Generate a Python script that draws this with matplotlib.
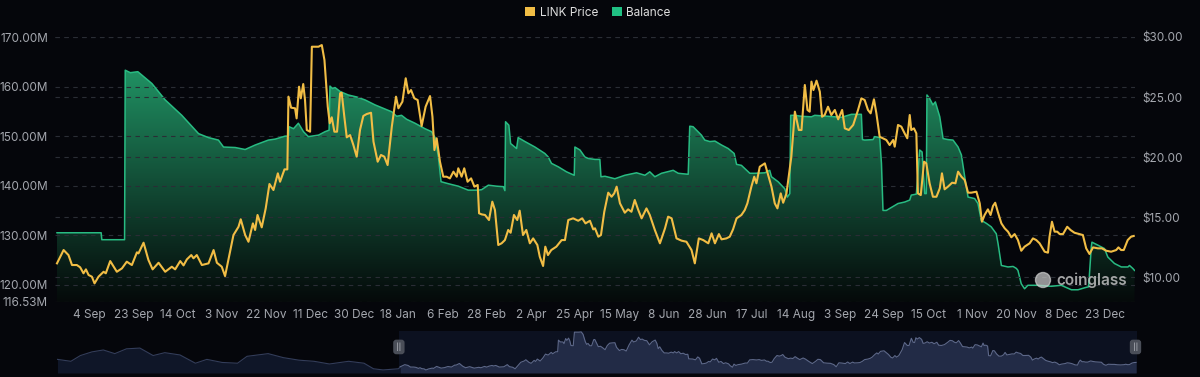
"""LINK exchange balance vs price, coinglass style"""

import numpy as np
import matplotlib.pyplot as plt
import matplotlib.transforms as mtransforms
from matplotlib.patches import Patch, PathPatch, Ellipse

plt.rcParams['font.family'] = ['Inter', 'DejaVu Sans']

# x axis: category positions, one label every 20 steps
tick_labels = ['4 Sep', '23 Sep', '14 Oct', '3 Nov', '22 Nov', '11 Dec', '30 Dec', '18 Jan',
               '6 Feb', '28 Feb', '2 Apr', '25 Apr', '15 May', '8 Jun', '28 Jun', '17 Jul',
               '14 Aug', '3 Sep', '24 Sep', '15 Oct', '1 Nov', '20 Nov', '8 Dec', '23 Dec']
tick_step = 20

balance_ticks = [116.53, 120, 130, 140, 150, 160, 170]
price_ticks = [10, 15, 20, 25, 30]

# exchange balance (millions of LINK), (position, value)
balance_pts = [
    (-14.6, 130.5), (5.4, 130.5), (5.7, 129.1), (16.0, 129.1), (16.3, 163.3), (18.6, 162.8),
    (22.0, 163.0), (28.4, 160.6), (34.4, 157.3), (41.9, 154.2), (49.5, 150.5), (54.0, 149.7),
    (58.5, 149.2), (60.8, 147.8), (66.1, 147.7), (70.6, 147.3), (75.1, 148.2), (81.1, 149.2),
    (84.2, 149.4), (88.7, 150.0), (90.2, 150.0), (90.5, 151.9), (92.5, 151.5), (94.7, 152.6),
    (97.0, 150.9), (99.2, 149.9), (103.8, 150.2), (106.8, 150.9), (108.6, 151.2), (109.0, 160.1),
    (110.1, 159.6), (111.3, 159.8), (113.6, 159.0), (117.3, 158.3), (121.1, 157.9), (124.9, 157.3),
    (129.4, 156.3), (133.2, 155.6), (137.0, 154.9), (139.2, 154.0), (141.4, 154.2), (143.7, 153.4),
    (147.5, 152.6), (152.0, 151.5), (155.0, 150.9), (156.6, 149.7), (158.1, 145.8), (159.3, 140.8),
    (162.6, 140.4), (167.1, 139.9), (171.6, 139.1), (176.2, 139.1), (177.7, 139.2), (180.7, 140.1),
    (184.4, 139.9), (187.5, 139.8), (188.2, 139.0), (188.5, 152.9), (190.0, 152.2), (190.8, 148.5),
    (193.5, 147.5), (194.2, 149.7), (197.3, 148.9), (201.8, 147.8), (206.3, 146.5), (207.8, 145.8),
    (209.3, 144.5), (212.4, 143.8), (216.1, 142.8), (219.6, 142.1), (219.9, 147.8), (222.2, 147.2),
    (224.4, 145.8), (225.9, 145.5), (229.0, 145.3), (231.2, 145.3), (231.7, 141.8), (233.5, 141.9),
    (238.0, 141.4), (242.5, 142.1), (247.8, 142.6), (251.6, 142.1), (253.8, 142.8), (256.1, 141.8),
    (259.1, 142.5), (264.4, 143.1), (266.7, 142.5), (271.2, 142.3), (271.9, 152.0), (273.4, 151.9),
    (277.2, 150.2), (278.7, 149.2), (281.0, 148.9), (283.3, 149.0), (286.3, 148.2), (289.3, 147.5),
    (292.0, 146.5), (293.1, 144.3), (295.3, 144.1), (299.1, 142.5), (301.4, 142.5), (305.9, 142.6),
    (308.1, 143.1), (308.9, 141.8), (311.9, 140.8), (314.9, 139.4), (316.1, 137.7), (317.2, 138.4),
    (317.6, 154.2), (319.5, 154.2), (322.5, 154.0), (327.0, 153.9), (328.5, 154.2), (334.5, 154.0),
    (340.6, 153.8), (345.1, 154.4), (349.6, 154.4), (350.1, 149.3), (351.1, 149.2), (354.9, 149.3),
    (355.6, 149.9), (357.9, 149.7), (358.7, 144.5), (359.4, 135.0), (360.9, 135.0), (363.2, 135.6),
    (366.2, 136.4), (369.2, 136.7), (371.5, 137.1), (372.2, 138.1), (374.5, 138.3), (376.0, 147.2),
    (377.1, 146.8), (378.3, 138.4), (379.0, 138.4), (379.3, 158.3), (380.5, 157.6), (382.0, 156.3),
    (383.1, 156.9), (385.1, 153.9), (386.6, 149.5), (388.8, 149.3), (391.1, 149.2), (393.4, 147.8),
    (394.9, 146.2), (396.4, 141.8), (397.9, 137.7), (400.9, 137.4), (402.4, 136.4), (403.9, 133.0),
    (406.2, 132.4), (408.4, 131.7), (410.7, 130.3), (411.5, 128.3), (413.0, 123.9), (416.0, 123.6),
    (418.3, 123.7), (419.8, 123.3), (420.5, 122.9), (422.0, 120.2), (423.5, 119.2), (425.0, 119.9),
    (429.6, 119.9), (435.6, 119.7), (440.1, 119.9), (441.6, 119.6), (444.7, 119.0), (447.7, 119.0),
    (450.7, 119.4), (452.5, 119.6), (453.7, 127.6), (454.0, 128.6), (456.7, 128.0), (459.7, 127.3),
    (461.2, 125.6), (464.2, 124.3), (467.3, 123.6), (470.3, 123.6), (471.0, 123.9), (472.5, 123.3),
    (473.3, 122.9),
]

# LINK price (USD), (position, value)
price_pts = [
    (-14.6, 11.14), (-11.6, 12.25), (-9.4, 11.83), (-7.8, 11.0), (-5.6, 11.0), (-4.1, 10.81),
    (-2.6, 10.31), (-1.5, 10.64), (-0.3, 10.17), (1.2, 10.03), (2.4, 9.47), (4.2, 10.03),
    (6.5, 10.44), (7.5, 10.31), (9.5, 11.33), (12.5, 10.44), (14.8, 10.72), (17.0, 11.28),
    (19.3, 11.0), (21.6, 12.06), (22.3, 11.97), (24.6, 12.86), (26.8, 11.42), (28.7, 10.64),
    (31.4, 11.19), (34.4, 10.44), (37.4, 10.86), (38.9, 10.64), (41.2, 11.33), (42.7, 10.97),
    (44.2, 11.47), (46.2, 11.83), (47.2, 11.56), (48.7, 11.83), (51.0, 11.0), (54.0, 11.14),
    (56.3, 12.25), (57.8, 11.19), (60.0, 10.86), (61.5, 10.08), (63.0, 11.42), (65.3, 13.5),
    (67.6, 14.19), (68.6, 14.81), (70.6, 13.5), (72.1, 12.94), (74.1, 14.47), (75.1, 13.92),
    (76.2, 15.17), (78.1, 14.14), (79.9, 15.72), (81.6, 17.75), (83.4, 17.25), (85.4, 18.64),
    (86.4, 17.94), (88.4, 18.97), (89.7, 18.97), (90.2, 25.03), (91.4, 24.11), (93.2, 24.06),
    (93.9, 23.22), (95.0, 25.86), (95.8, 24.89), (96.9, 26.08), (97.7, 24.75), (98.5, 22.25),
    (100.0, 22.11), (100.8, 29.19), (103.8, 29.19), (105.3, 29.33), (106.5, 28.08),
    (108.0, 24.19), (108.9, 22.81), (109.8, 23.31), (111.0, 22.11), (112.2, 22.11), (113.6, 25.31),
    (114.3, 25.36), (115.5, 23.36), (116.6, 21.64), (118.1, 21.83), (119.6, 21.0), (121.1, 20.03),
    (122.6, 22.25), (124.1, 23.42), (125.6, 23.58), (127.6, 23.69), (128.7, 21.28), (130.6, 19.61),
    (132.1, 20.17), (133.6, 20.03), (135.1, 19.33), (137.0, 22.53), (138.9, 25.03), (140.0, 24.06),
    (141.8, 24.61), (143.3, 26.56), (144.5, 25.31), (145.7, 25.58), (147.2, 24.89), (148.7, 24.75),
    (150.5, 22.58), (152.3, 24.19), (154.3, 25.08), (155.4, 23.36), (156.3, 20.58), (157.3, 21.56),
    (158.8, 19.61), (160.3, 18.36), (161.8, 18.36), (163.3, 18.22), (164.9, 18.78), (166.4, 18.36),
    (167.1, 19.06), (168.6, 18.36), (169.8, 19.06), (171.3, 17.94), (172.9, 18.22), (174.4, 17.53),
    (175.9, 17.67), (176.5, 15.31), (177.7, 15.22), (179.2, 15.17), (181.0, 14.75), (182.5, 16.28),
    (183.7, 15.58), (185.2, 12.67), (186.7, 12.81), (188.2, 13.08), (189.7, 13.92), (190.8, 13.69),
    (192.3, 15.17), (193.8, 14.75), (194.9, 15.53), (196.4, 13.5), (197.9, 13.92), (199.5, 12.81),
    (201.0, 13.22), (202.9, 12.67), (204.0, 11.69), (205.5, 10.92), (206.5, 12.53), (207.7, 11.83),
    (209.2, 12.25), (211.5, 12.53), (213.9, 13.08), (215.4, 13.08), (216.9, 14.75), (219.1, 14.89),
    (221.4, 14.69), (223.2, 14.89), (224.7, 14.47), (226.7, 14.69), (228.2, 13.97),
    (229.0, 14.06), (230.5, 13.36), (231.7, 13.5), (233.2, 15.44), (235.0, 17.03), (236.5, 16.69),
    (237.7, 16.97), (238.8, 17.53), (240.3, 16.14), (242.5, 15.36), (244.0, 15.64), (245.5, 15.44),
    (247.0, 16.42), (248.6, 15.58), (250.1, 14.89), (252.3, 15.72), (253.8, 15.17), (256.1, 13.92),
    (258.4, 12.81), (260.7, 14.06), (262.1, 15.03), (263.7, 14.89), (265.9, 13.22), (268.2, 13.03),
    (270.4, 12.94), (272.7, 12.25), (274.2, 11.14), (276.0, 13.22), (278.0, 13.08), (280.3, 12.81),
    (281.8, 13.64), (283.3, 12.81), (285.1, 13.58), (286.3, 13.14), (288.5, 13.22), (290.0, 13.36),
    (291.5, 13.97), (293.1, 14.89), (295.3, 15.17), (296.8, 15.58), (298.0, 16.14), (299.8, 17.53),
    (301.1, 18.36), (302.1, 17.81), (303.6, 19.19), (305.9, 19.47), (307.4, 18.5), (308.9, 17.53),
    (310.4, 16.14), (311.6, 15.72), (313.1, 16.97), (314.2, 16.19), (315.7, 16.97), (317.9, 20.03),
    (319.5, 23.78), (321.3, 22.25), (322.5, 22.25), (324.0, 26.0), (325.2, 23.92), (326.2, 23.78),
    (327.0, 26.28), (327.9, 25.58), (329.3, 26.36), (330.8, 25.44), (331.8, 23.36), (333.0, 23.5),
    (334.5, 24.19), (336.0, 23.5), (337.6, 23.92), (339.1, 23.14), (340.9, 23.92), (342.1, 22.39),
    (343.9, 22.25), (345.9, 22.67), (348.1, 23.92), (349.6, 24.89), (351.1, 24.75),
    (352.6, 23.92), (353.8, 23.64), (355.3, 24.81), (356.4, 23.64), (357.9, 21.69), (359.4, 21.56),
    (360.9, 21.42), (362.4, 21.0), (364.0, 21.42), (364.7, 20.86), (366.2, 22.67), (367.7, 22.53),
    (369.2, 21.97), (370.4, 21.56), (371.5, 23.5), (372.2, 22.25), (373.4, 22.39), (374.5, 21.97),
    (375.2, 16.97), (376.5, 16.83), (378.0, 19.61), (379.0, 19.47), (380.5, 17.81), (382.0, 16.69),
    (383.6, 16.69), (385.1, 17.39), (386.1, 18.64), (387.3, 17.31), (388.8, 17.53), (390.7, 17.86),
    (392.2, 17.81), (393.4, 18.78), (394.9, 18.36), (396.4, 18.08), (397.9, 17.03), (399.4, 17.03),
    (401.7, 17.11), (403.2, 16.14), (404.2, 14.61), (405.4, 15.17), (406.9, 15.64), (408.1, 15.17),
    (409.2, 15.92), (410.2, 16.19), (411.5, 15.36), (413.0, 14.47), (414.5, 14.06), (416.0, 13.78),
    (417.5, 13.31), (419.0, 13.58), (420.5, 13.08), (422.0, 12.19), (423.5, 12.53), (425.8, 12.81),
    (427.3, 13.22), (428.8, 13.08), (430.3, 12.81), (432.6, 12.11), (434.1, 12.03), (434.8, 13.36),
    (435.9, 14.61), (437.1, 13.78), (438.3, 13.78), (439.4, 13.58), (440.9, 13.58), (442.8, 14.19),
    (444.3, 13.92), (446.1, 13.69), (448.4, 13.58), (449.9, 13.5), (451.4, 12.39), (452.9, 11.92),
    (454.5, 12.47), (456.7, 12.39), (458.5, 12.39), (460.5, 12.19), (462.7, 12.11), (465.0, 12.25),
    (466.0, 12.47), (467.2, 12.25), (468.4, 12.25), (470.2, 13.08), (471.7, 13.36), (472.9, 13.42),
]

# older price history shown only in the range navigator
history_pts = [
    (-241.7, 15.0), (-232.8, 14.0), (-226.5, 17.0), (-218.9, 18.9), (-211.3, 19.9), (-203.7, 18.0),
    (-196.0, 20.5), (-187.1, 20.9), (-178.3, 17.0), (-170.6, 18.5), (-160.5, 17.3), (-150.3, 13.0),
    (-142.7, 15.0), (-132.6, 13.4), (-122.4, 13.0), (-116.1, 16.6), (-102.1, 18.0), (-92.0, 15.9),
    (-81.8, 14.6), (-71.7, 14.0), (-61.5, 12.6), (-48.8, 14.0), (-38.6, 13.0), (-32.3, 10.1),
    (-26.0, 9.5), (-15.8, 10.1),
]

BG = '#05060b'
TXT = '#a4a7ae'
GRID = '#2a2d35'
PRICE_C = '#f1bd45'
BAL_C = '#28bb82'

bx, by = np.array(balance_pts).T
px, py = np.array(price_pts).T
hx, hy = np.array(history_pts).T

fig = plt.figure(figsize=(12, 3.77), dpi=100, facecolor=BG)
ax = fig.add_axes([55 / 1200, 1 - 302 / 377, 1080 / 1200, 265 / 377])
ax.set_facecolor(BG)
xmin, xmax = -15.5, 473.5
ax.set_xlim(xmin, xmax)
ax.set_ylim(balance_ticks[0], balance_ticks[-1])

# balance area with vertical green gradient
poly = ax.fill_between(bx, by, balance_ticks[0], facecolor='none', edgecolor='none')
clip = PathPatch(poly.get_paths()[0], transform=ax.transData, facecolor='none', edgecolor='none')
ax.add_patch(clip)
f = np.linspace(1, 0, 256) ** 1.05
top = np.array([36, 165, 112]) / 255
bot = np.array([5, 10, 10]) / 255
grad = (bot + (top - bot) * f[:, None])[:, None, :]
im = ax.imshow(grad, extent=[xmin, xmax, balance_ticks[0], balance_ticks[-1]],
               aspect='auto', origin='upper', zorder=1, interpolation='bilinear')
im.set_clip_path(clip)
ax.plot(bx, by, color=BAL_C, lw=1.1, zorder=3)

ax.set_yticks(balance_ticks)
ax.set_yticklabels([f'{v:.2f}M' for v in balance_ticks])
ax.set_xticks(np.arange(len(tick_labels)) * tick_step)
ax.set_xticklabels(tick_labels)
ax.yaxis.grid(True, ls=(0, (4, 4)), color=GRID, lw=0.8)
ax.set_axisbelow(False)
ax.tick_params(axis='both', length=0, colors=TXT, labelsize=8.5)
ax.tick_params(axis='y', pad=5)
ax.tick_params(axis='x', pad=5)

ax2 = ax.twinx()
ax2.set_ylim(7.92, 30)
ax2.set_yticks(price_ticks)
ax2.set_yticklabels([f'${v:.2f}' for v in price_ticks])
ax2.yaxis.grid(True, ls=(0, (4, 4)), color=GRID, lw=0.8)
ax2.plot(px, py, color=PRICE_C, lw=1.5, zorder=4)
ax2.tick_params(axis='both', length=0, colors=TXT, labelsize=8.5, pad=5)
for a in (ax, ax2):
    for s in a.spines.values():
        s.set_visible(False)

# legend
fig.legend(handles=[Patch(facecolor=PRICE_C), Patch(facecolor='#20c083')],
           labels=['LINK Price', 'Balance'], loc='center',
           bbox_to_anchor=(598 / 1200, 1 - 13 / 377), ncol=2, frameon=False,
           fontsize=8.5, labelcolor='#dedede', handlelength=0.8, handleheight=0.8,
           handletextpad=0.4, columnspacing=1.2)

# watermark
fig.text(1056 / 1200, 1 - 280 / 377, 'coinglass', color='#c9c9c9', alpha=0.8,
         fontsize=11, fontweight='semibold', va='center', ha='left')
fig.add_artist(Ellipse((1043 / 1200, 1 - 280 / 377), 15 / 1200, 15 / 377,
                       transform=fig.transFigure, color='#cfcfcf', alpha=0.7))

# range navigator
axn = fig.add_axes([57 / 1200, 1 - 373 / 377, 1080 / 1200, 42 / 377])
axn.set_facecolor(BG)
axn.set_xlim(-242, xmax)
axn.set_ylim(7.9, 29.8)
axn.axvspan(xmin, xmax, color='#0c1120', zorder=0, lw=0)
lx = np.append(hx, px[0])
ly = np.append(hy, py[0])
axn.fill_between(lx, ly, 7.9, color='#0f1628', lw=0, zorder=1)
axn.plot(lx, ly, color='#333d5a', lw=0.8, zorder=2)
axn.fill_between(px, py, 7.9, color='#222b46', lw=0, zorder=1)
axn.plot(px, py, color='#5d6889', lw=0.8, zorder=2)
trans = mtransforms.blended_transform_factory(axn.transData, axn.transAxes)
for hxp in (xmin, xmax - 1):
    axn.text(hxp, 0.62, '||', transform=trans, ha='center', va='center', fontsize=5.5,
             color='#bfc2c8', zorder=5,
             bbox=dict(boxstyle='round,pad=0.4', fc='#4a4e58', ec='none'))
axn.set_xticks([])
axn.set_yticks([])
for s in axn.spines.values():
    s.set_visible(False)

fig.savefig('out.png', dpi=100, facecolor=BG)
